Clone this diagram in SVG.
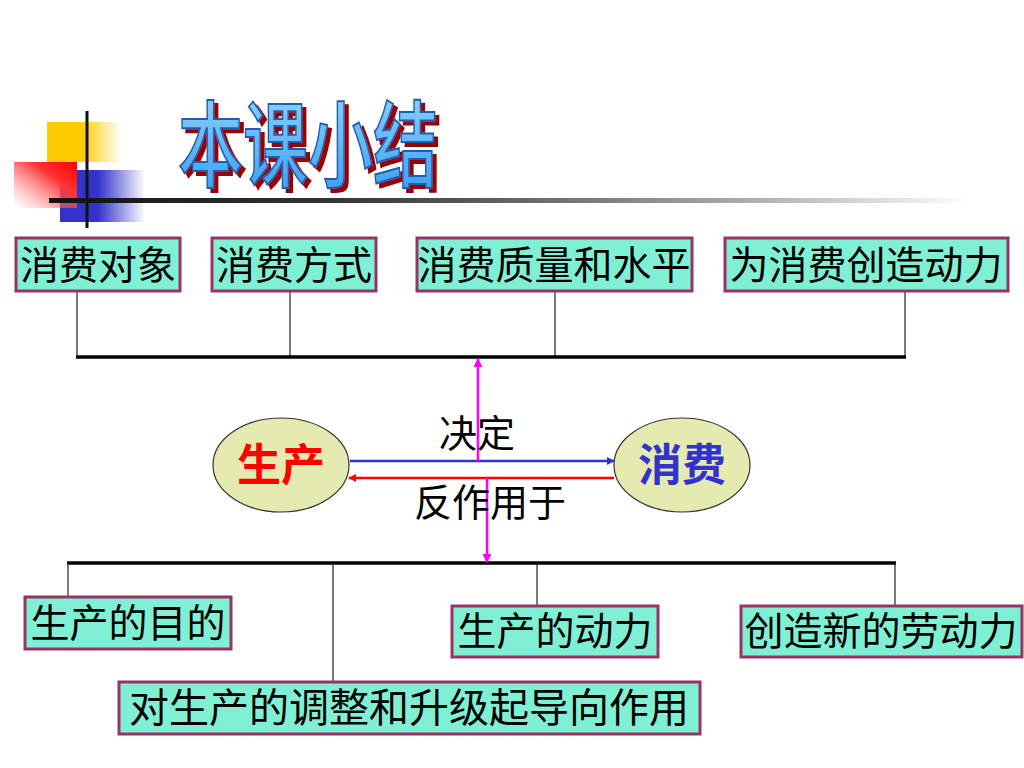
<svg xmlns="http://www.w3.org/2000/svg" width="1024" height="768" viewBox="0 0 1024 768">
<defs>
<style>
.box{fill:#80F0D4;stroke:#993366;stroke-width:3}
.bt{font-family:"Noto Sans CJK SC","Noto Sans",sans-serif;font-size:39px;fill:#000;text-anchor:middle}
.thin{stroke:#222;stroke-width:1.2;fill:none}
.thick{stroke:#000;stroke-width:3.5;fill:none}
.ell{fill:#E4EAB0;stroke:#333;stroke-width:1.2}
.lbl{font-family:"Noto Sans CJK SC","Noto Sans",sans-serif;font-size:38px;fill:#000;text-anchor:middle}
.title{font-family:"Noto Sans CJK SC","Noto Sans",sans-serif;font-size:94px;font-weight:500}
</style>
<linearGradient id="gY" x1="0" y1="0" x2="1" y2="0">
<stop offset="0" stop-color="#FFCC00"/><stop offset="0.45" stop-color="#FFCC00"/><stop offset="1" stop-color="#FFCC00" stop-opacity="0"/>
</linearGradient>
<linearGradient id="gB" x1="0" y1="0" x2="1" y2="0">
<stop offset="0" stop-color="#3333CC"/><stop offset="0.45" stop-color="#3333CC"/><stop offset="1" stop-color="#3333CC" stop-opacity="0"/>
</linearGradient>
<linearGradient id="gR" x1="1" y1="0" x2="0" y2="1">
<stop offset="0" stop-color="#FF0000"/><stop offset="0.35" stop-color="#FF3333"/><stop offset="1" stop-color="#FF9999" stop-opacity="0"/>
</linearGradient>
<linearGradient id="gL" x1="0" y1="0" x2="1" y2="0">
<stop offset="0" stop-color="#111"/><stop offset="0.3" stop-color="#333"/><stop offset="1" stop-color="#000" stop-opacity="0"/>
</linearGradient>
<linearGradient id="gT" x1="0" y1="0" x2="0" y2="1">
<stop offset="0" stop-color="#9ADCFF"/><stop offset="1" stop-color="#3399EE"/>
</linearGradient>
<filter id="shadow" x="-5%" y="-10%" width="115%" height="130%">
<feFlood flood-color="#990000" result="c"/>
<feComposite in="c" in2="SourceAlpha" operator="in" result="s"/>
<feOffset in="s" dx="4" dy="4" result="o"/>
<feMerge><feMergeNode in="o"/><feMergeNode in="SourceGraphic"/></feMerge>
</filter>
<marker id="aBlue" viewBox="0 0 10 10" refX="9" refY="5" markerWidth="8" markerHeight="8" markerUnits="userSpaceOnUse" orient="auto"><path d="M0,0 L10,5 L0,10 z" fill="#3333CC"/></marker>
<marker id="aRed" viewBox="0 0 10 10" refX="9" refY="5" markerWidth="8" markerHeight="8" markerUnits="userSpaceOnUse" orient="auto"><path d="M0,0 L10,5 L0,10 z" fill="#FF0000"/></marker>
<marker id="aMag" viewBox="0 0 10 10" refX="9" refY="5" markerWidth="9" markerHeight="9" markerUnits="userSpaceOnUse" orient="auto"><path d="M0,0 L10,5 L0,10 z" fill="#FF00FF"/></marker>
</defs>
<rect width="1024" height="768" fill="#fff"/>

<g id="decor">
<rect x="47" y="122" width="75" height="40" fill="url(#gY)"/>
<rect x="60" y="170" width="85" height="52" fill="url(#gB)"/>
<rect x="14" y="162" width="63" height="46" fill="url(#gR)"/>
<rect x="49" y="198" width="920" height="5" fill="url(#gL)"/>
<line x1="87" y1="111" x2="87" y2="228" stroke="#111" stroke-width="3"/>
</g>

<g id="title">
<text class="title" x="178" y="180" textLength="260" lengthAdjust="spacingAndGlyphs" fill="url(#gT)" stroke="#1f5fb0" stroke-width="2" filter="url(#shadow)">本课小结</text>
</g>

<g id="connectors">
<line class="thin" x1="77" y1="291" x2="77" y2="357"/>
<line class="thin" x1="290" y1="291" x2="290" y2="357"/>
<line class="thin" x1="555" y1="291" x2="555" y2="357"/>
<line class="thin" x1="905" y1="291" x2="905" y2="357"/>
<line class="thick" x1="76" y1="357" x2="906" y2="357"/>
<line class="thick" x1="67" y1="563" x2="896" y2="563"/>
<line class="thin" x1="68" y1="563" x2="68" y2="597"/>
<line class="thin" x1="333" y1="563" x2="333" y2="682"/>
<line class="thin" x1="537" y1="563" x2="537" y2="606"/>
<line class="thin" x1="895" y1="563" x2="895" y2="606"/>
<line x1="350" y1="461" x2="614" y2="461" stroke="#3333CC" stroke-width="2.5" marker-end="url(#aBlue)"/>
<line x1="614" y1="478" x2="349" y2="478" stroke="#FF0000" stroke-width="2.5" marker-end="url(#aRed)"/>
<line x1="478" y1="461" x2="478" y2="359" stroke="#FF00FF" stroke-width="2.5" marker-end="url(#aMag)"/>
<line x1="487" y1="478" x2="487" y2="562" stroke="#FF00FF" stroke-width="2.5" marker-end="url(#aMag)"/>
</g>

<g id="n-xfdx"><rect class="box" x="16" y="238" width="164" height="53"/><text class="bt" x="98" y="279">消费对象</text></g>
<g id="n-xffs"><rect class="box" x="212" y="238" width="164" height="53"/><text class="bt" x="294" y="279">消费方式</text></g>
<g id="n-xfzl"><rect class="box" x="417" y="238" width="275" height="53"/><text class="bt" x="554" y="279">消费质量和水平</text></g>
<g id="n-wxf"><rect class="box" x="725" y="238" width="283" height="53"/><text class="bt" x="866" y="279">为消费创造动力</text></g>

<g id="n-sc"><ellipse class="ell" cx="281" cy="465" rx="68" ry="47"/><text x="281" y="481" text-anchor="middle" font-family="'Noto Sans CJK SC',sans-serif" font-size="44" font-weight="bold" fill="#FF0000">生产</text></g>
<g id="n-xf"><ellipse class="ell" cx="682" cy="465" rx="68" ry="47"/><text x="682" y="481" text-anchor="middle" font-family="'Noto Sans CJK SC',sans-serif" font-size="44" font-weight="bold" fill="#3333CC">消费</text></g>

<g id="l-jd"><text class="lbl" x="477" y="447">决定</text></g>
<g id="l-fzy"><text class="lbl" x="490" y="516">反作用于</text></g>

<g id="n-mdd"><rect class="box" x="25" y="597" width="206" height="52"/><text class="bt" x="128" y="637">生产的目的</text></g>
<g id="n-dl"><rect class="box" x="452" y="606" width="206" height="51"/><text class="bt" x="555" y="645">生产的动力</text></g>
<g id="n-cz"><rect class="box" x="741" y="606" width="281" height="51"/><text class="bt" x="881" y="645">创造新的劳动力</text></g>
<g id="n-tz"><rect class="box" x="119" y="682" width="581" height="52"/><text class="bt" x="409" y="722" style="font-size:40px">对生产的调整和升级起导向作用</text></g>
</svg>
